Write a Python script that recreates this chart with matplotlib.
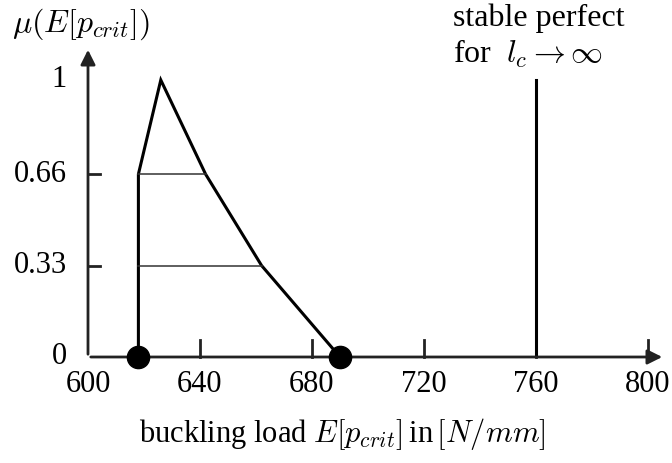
import matplotlib.pyplot as plt
import numpy as np

plt.rcParams['font.family'] = ['Liberation Serif', 'DejaVu Serif']
plt.rcParams['mathtext.fontset'] = 'cm'

# fuzzy triangle of the buckling load
load = [618, 618, 626, 642, 662, 690]
mu = [0, 0.66, 1, 0.66, 0.33, 0]
# alpha cuts drawn as thin lines
cut_levels = [0.66, 0.33]
cut_left = [618, 618]
cut_right = [642, 662]
# support end points
dots_x = [618, 690]
# perfect case
perfect_x = 760
perfect_mu = 1

xticks = [600, 640, 680, 720, 760, 800]
yticks = [0, 0.33, 0.66, 1]
yticklabels = ['0', '0.33', '0.66', '1']

fig = plt.figure(figsize=(6.72, 4.63), dpi=100)
ax = fig.add_axes([88/672, 106/463, 577/672, 310/463])
xmax = 600 + 577/2.8
ymax = 310/277
ax.set_xlim(600, xmax)
ax.set_ylim(0, ymax)
for s in ax.spines.values():
    s.set_visible(False)
ax.set_xticks([])
ax.set_yticks([])

# axes with arrows
arrow = dict(arrowstyle='-|>', lw=2, color='#222222', mutation_scale=22)
ax.annotate('', xy=(xmax, 0), xytext=(600, 0), arrowprops=arrow, annotation_clip=False)
ax.annotate('', xy=(600, ymax), xytext=(600, 0), arrowprops=arrow, annotation_clip=False)

# tick marks and labels
for t in xticks[1:]:
    ax.plot([t, t], [0, 0.061], color='#222222', lw=2, clip_on=False)
for t in xticks:
    ax.text(t, -0.101, str(t), ha='center', va='center', fontsize=22)
for v in [0.33, 0.66]:
    ax.plot([600, 604.3], [v, v], color='#222222', lw=2)
for v, lab in zip(yticks, yticklabels):
    ax.text(592.5, v, lab, ha='right', va='center', fontsize=22)

# membership function
ax.plot(load, mu, color='black', lw=2.2, solid_joinstyle='miter')
for lv, a, b in zip(cut_levels, cut_left, cut_right):
    ax.plot([a, b], [lv, lv], color='#333333', lw=1.1)
ax.plot([perfect_x, perfect_x], [0, perfect_mu], color='black', lw=2.2)
ax.plot(dots_x, [0, 0], 'o', color='black', markersize=16, clip_on=False, zorder=5)

fig.text(12/672, 1 - 24/463, r'$\mu(E[p_{crit}])$', fontsize=23, va='center', ha='left')
fig.text(453/672, 1 - 18/463, 'stable perfect', fontsize=23, va='center', ha='left')
fig.text(453/672, 1 - 54/463, r'for  $l_c \rightarrow \infty$', fontsize=23, va='center', ha='left')
fig.text(342/672, 1 - 434/463, r'buckling load $E[p_{crit}]\,$in$\,[N/mm]$', fontsize=22,
         va='center', ha='center')

fig.savefig('out.png', dpi=100)
